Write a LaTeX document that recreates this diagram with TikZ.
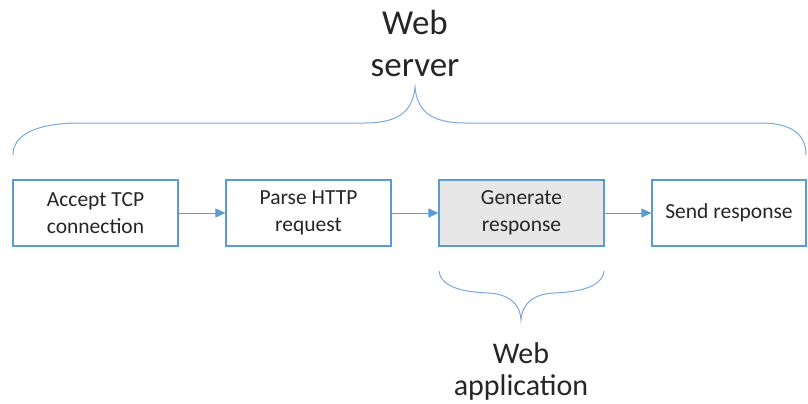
\documentclass[tikz,border=0pt]{standalone}
\usepackage{fontspec}
\setmainfont{Carlito}
\usetikzlibrary{arrows.meta}
\definecolor{boxblue}{HTML}{5B9BD5}
\definecolor{braceblue}{HTML}{7DA7DA}
\definecolor{boxgray}{HTML}{E7E7E7}
\definecolor{txt}{HTML}{262626}
\tikzset{
  stepbox/.style={draw=boxblue, line width=1.2pt, fill=white, minimum height=66pt, inner sep=0pt, align=center, text=txt, font=\fontsize{21.5}{27}\selectfont},
  flow/.style={draw=boxblue, line width=1pt, -{Triangle[length=10pt,width=9pt]}},
  bracestyle/.style={draw=braceblue, line width=1pt},
  biglabel/.style={align=center, text=txt}
}
\begin{document}
\begin{tikzpicture}[x=1pt,y=-1pt]
\useasboundingbox (0,0) rectangle (808,404);
\node[stepbox, minimum width=165pt] (a) at (95.5,213) {Accept TCP\\connection};
\node[stepbox, minimum width=165pt] (b) at (308.5,213) {Parse HTTP\\request};
\node[stepbox, minimum width=165pt, fill=boxgray] (c) at (521.5,213) {Generate\\response};
\node[stepbox, minimum width=154pt] (d) at (729,213) {Send response};
\draw[flow] (a) -- (b);
\draw[flow] (b) -- (c);
\draw[flow] (c) -- (d);
% top brace
\draw[bracestyle] (13,155) .. controls (13,133) and (40,123) .. (80,123) -- (365,123) .. controls (400,123) and (413,110) .. (415,87) .. controls (417,110) and (430,123) .. (465,123) -- (760,123) .. controls (790,123) and (806,133) .. (806,155);
% bottom brace
\draw[bracestyle] (439,271) .. controls (441,288) and (465,292) .. (488,293) .. controls (508,294) and (520,303) .. (521,320) .. controls (522,303) and (534,294) .. (554,293) .. controls (577,292) and (602,288) .. (604,271);
\node[biglabel, font=\fontsize{35}{42}\selectfont] (ws) at (415,43) {Web\\server};
\node[biglabel, font=\fontsize{30}{32}\selectfont] (wa) at (521,371) {Web\\application};
\end{tikzpicture}
\end{document}
